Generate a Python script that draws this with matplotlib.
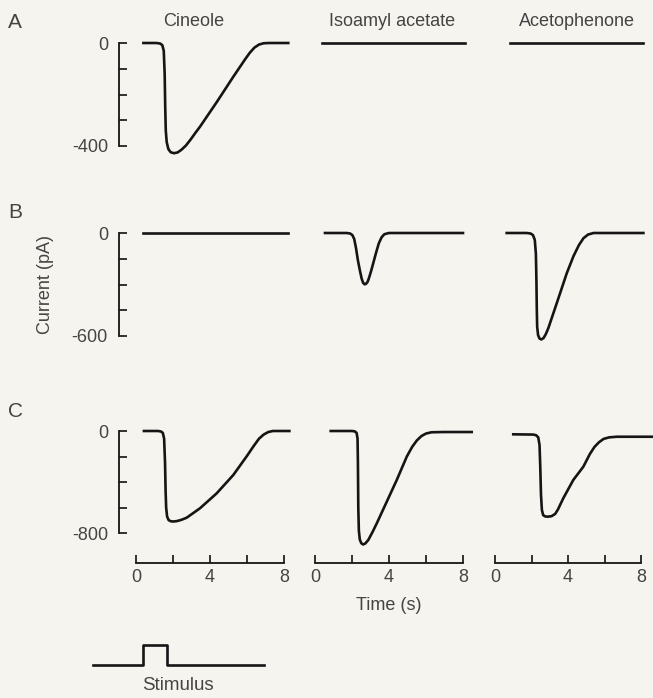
import matplotlib
matplotlib.use("Agg")
import matplotlib.pyplot as plt
import numpy as np
from matplotlib.ticker import FixedLocator

plt.rcParams.update({
    "font.family": ["Liberation Sans", "DejaVu Sans"],
    "font.size": 13,
    "text.color": "#444444",
    "xtick.color": "#222222",
    "ytick.color": "#222222",
    "xtick.labelcolor": "#444444",
    "ytick.labelcolor": "#444444",
})

odorants = ["Cineole", "Isoamyl acetate", "Acetophenone"]
rows = ["A", "B", "C"]
full_scale = [400, 600, 800]  # pA, bottom tick of each row

# traces: (time s, current pA)
a_cin_t = [0.4, 1.1, 1.3, 1.42, 1.5, 1.55, 1.58, 1.61, 1.66, 1.75, 1.87, 2.05, 2.25,
           2.45, 2.7, 2.95, 3.2, 3.46, 4.36, 5.26, 5.9, 6.15, 6.4, 6.65, 6.9, 7.2, 8.23]
a_cin_v = [0, 0, -2, -8, -30, -120, -250, -340, -385, -412, -424, -428, -425,
           -415, -398, -375, -350, -325, -230, -131, -63, -38, -18, -6, -1, 0, 0]
a_iso_t = [0.4, 8.1]
a_iso_v = [0, 0]
a_ace_t = [0.8, 8.1]
a_ace_v = [0, 0]

b_cin_t = [0.4, 8.2]
b_cin_v = [0, 0]
b_iso_t = [0.54, 1.71, 1.9, 2.02, 2.12, 2.22, 2.32, 2.43, 2.52, 2.6, 2.68, 2.76,
           2.85, 2.94, 3.05, 3.15, 3.3, 3.45, 3.6, 3.75, 4.0, 8.0]
b_iso_v = [0, 0, -3, -12, -35, -90, -160, -220, -265, -290, -299, -296,
           -283, -255, -215, -175, -115, -60, -25, -7, 0, 0]
b_ace_t = [0.64, 1.74, 1.95, 2.08, 2.18, 2.24, 2.27, 2.29, 2.31, 2.36, 2.44, 2.54,
           2.66, 2.78, 2.92, 3.38, 3.93, 4.3, 4.6, 4.85, 5.1, 5.4, 8.13]
b_ace_v = [0, 0, -3, -12, -40, -120, -280, -440, -545, -595, -615, -620,
           -612, -590, -555, -410, -235, -135, -70, -30, -9, 0, 0]

c_cin_t = [0.43, 1.2, 1.35, 1.45, 1.52, 1.57, 1.6, 1.63, 1.68, 1.76, 1.86, 2.0, 2.2,
           2.45, 2.74, 3.46, 4.36, 5.26, 6.0, 6.35, 6.65, 6.9, 7.15, 7.4, 8.29]
c_cin_v = [0, 0, -4, -15, -60, -250, -470, -600, -670, -698, -707, -710, -707,
           -697, -680, -606, -489, -345, -195, -120, -60, -28, -8, 0, 0]
c_iso_t = [0.85, 2.0, 2.15, 2.25, 2.3, 2.32, 2.34, 2.37, 2.42, 2.5, 2.6, 2.72, 2.88,
           3.1, 3.34, 3.88, 4.42, 4.96, 5.25, 5.5, 5.75, 6.0, 6.3, 6.94, 8.47]
c_iso_v = [0, 0, -3, -15, -60, -250, -600, -780, -850, -880, -890, -882, -855,
           -795, -724, -554, -384, -201, -125, -75, -40, -20, -10, -8, -8]
c_ace_t = [1.0, 2.1, 2.25, 2.37, 2.44, 2.48, 2.52, 2.57, 2.64, 2.75, 2.9, 3.1, 3.3,
           3.45, 3.6, 3.74, 4.29, 4.84, 5.2, 5.45, 5.7, 5.95, 6.25, 6.67, 8.68]
c_ace_v = [-26, -28, -33, -50, -110, -280, -500, -620, -660, -670, -672, -668, -650,
           -615, -570, -528, -384, -280, -180, -125, -88, -62, -50, -45, -45]

traces = [
    [(a_cin_t, a_cin_v), (a_iso_t, a_iso_v), (a_ace_t, a_ace_v)],
    [(b_cin_t, b_cin_v), (b_iso_t, b_iso_v), (b_ace_t, b_ace_v)],
    [(c_cin_t, c_cin_v), (c_iso_t, c_iso_v), (c_ace_t, c_ace_v)],
]

time_ticks = [0, 4, 8]
time_minor = [2, 6]

stim_t = [-2.3, 0.4, 0.4, 1.7, 1.7, 6.9]
stim_v = [0, 0, 1, 1, 0, 0]

W, H = 653, 698
fig = plt.figure(figsize=(W / 100, H / 100), dpi=100)
fig.patch.set_facecolor("#f6f4ef")


def px_axes(left, top, right, bottom):
    ax = fig.add_axes([left / W, 1 - bottom / H, (right - left) / W, (bottom - top) / H])
    ax.set_facecolor("none")
    for s in ax.spines.values():
        s.set_visible(False)
    ax.set_xticks([])
    ax.set_yticks([])
    return ax


# layout in pixels
col_x0 = [136, 315, 495]
col_ppx = [18.5, 18.5, 18.25]
row_zero = [43, 233, 431]
row_span = [103, 103, 102]
ink = "#151515"

for r in range(3):
    ppv = row_span[r] / full_scale[r]
    top, bot = row_zero[r] - 15, row_zero[r] + 122
    for c in range(3):
        left = col_x0[c] - 17
        right = col_x0[c] + 8.8 * col_ppx[c]
        ax = px_axes(left, top, right, bot)
        ax.set_xlim(-17 / col_ppx[c], 8.8)
        ax.set_ylim(-(bot - row_zero[r]) / ppv, (row_zero[r] - top) / ppv)
        t, v = traces[r][c]
        ax.plot(t, v, color=ink, lw=1.9, clip_on=False, solid_joinstyle="round")
        if c == 0:
            sp = ax.spines["left"]
            sp.set_visible(True)
            sp.set_bounds(-full_scale[r], 0)
            sp.set_linewidth(1.3)
            sp.set_color(ink)
            yt = np.linspace(0, -full_scale[r], 5)
            ax.set_yticks(yt)
            ax.set_yticklabels(["0", "", "", "", f"-{full_scale[r]}"])
            ax.tick_params(axis="y", direction="in", length=5.5, width=1.3, pad=8,
                           labelsize=13)

    # panel letter
    fig.text(8 / W, 1 - (row_zero[r] - 20) / H, rows[r], ha="left", va="center",
             fontsize=15)

# time axes under row C
for c in range(3):
    left = col_x0[c] - 17
    right = col_x0[c] + 8.8 * col_ppx[c]
    ax = px_axes(left, 550, right, 563)
    ax.set_xlim(-17 / col_ppx[c], 8.8)
    sp = ax.spines["bottom"]
    sp.set_visible(True)
    sp.set_bounds(0, 8)
    sp.set_linewidth(1.3)
    sp.set_color(ink)
    ax.set_xticks(time_ticks)
    ax.xaxis.set_minor_locator(FixedLocator(time_minor))
    ax.tick_params(axis="x", which="both", direction="in", length=5.5, width=1.3,
                   pad=4, labelsize=13)

# column titles
title_x = [194, 392, 577]
for name, x in zip(odorants, title_x):
    fig.text(x / W, 1 - 22 / H, name, ha="center", va="center", fontsize=13)

fig.text(45 / W, 1 - 284 / H, "Current (pA)", rotation=90, ha="center", va="center",
         fontsize=13)
fig.text(389 / W, 1 - 605 / H, "Time (s)", ha="center", va="center", fontsize=13)

# stimulus trace
ax = px_axes(60, 640, 300, 670)
ax.set_xlim((60 - 136) / 18.5, (300 - 136) / 18.5)
ax.set_ylim(-5 / 20, 25 / 20)
ax.plot(stim_t, stim_v, color=ink, lw=1.9, clip_on=False)
fig.text(178 / W, 1 - 686 / H, "Stimulus", ha="center", va="center", fontsize=13.5)

fig.savefig("out.png", dpi=100, facecolor=fig.get_facecolor())
